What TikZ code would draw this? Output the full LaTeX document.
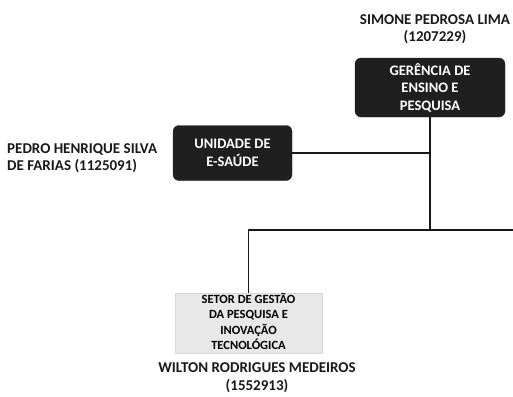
\documentclass[tikz,border=0pt]{standalone}
\usepackage{fontspec}
\setmainfont{Carlito}
\begin{document}
\begin{tikzpicture}[x=1pt,y=-1pt,
  darkbox/.style={draw=black!85,fill=black!88,rounded corners=6pt,text=white,font=\fontsize{14.5}{17.5}\selectfont\bfseries,align=center,inner sep=0pt},
  lightbox/.style={draw=black!15,fill=black!9,text=black,font=\fontsize{12.5}{15.3}\selectfont\bfseries,align=center,inner sep=0pt},
  person/.style={font=\fontsize{15}{17.5}\selectfont\bfseries,text=black!90,inner sep=0pt},
  conn/.style={line width=1.8pt,black!90}]
\useasboundingbox (0,0) rectangle (513,396);
\node[person,align=center] (simone) at (435,29) {SIMONE PEDROSA LIMA\\(1207229)};
\node[darkbox,minimum width=150pt,minimum height=59pt] (ger) at (430,87.5) {GERÊNCIA DE\\ENSINO E\\PESQUISA};
\node[darkbox,minimum width=119pt,minimum height=55pt] (uni) at (232.5,153) {UNIDADE DE\\E-SAÚDE};
\node[person,align=left,anchor=west] (pedro) at (7,158) {PEDRO HENRIQUE SILVA\\DE FARIAS (1125091)};
\node[lightbox,minimum width=147pt,minimum height=60pt] (setor) at (248.5,323) {};
\node[lightbox,draw=none,fill=none] (setortext) at (248.5,321.5) {SETOR DE GESTÃO\\DA PESQUISA E\\INOVAÇÃO\\TECNOLÓGICA};
\node[person,align=center] (wilton) at (257,377.5) {WILTON RODRIGUES MEDEIROS\\(1552913)};
\coordinate (jr) at (513,230);
\coordinate (jm) at (430,230);
\draw[conn] (ger.south) -- (jm);
\draw[conn] (uni.east) -- (uni.east -| ger.south);
\draw[conn] (jr) -- (setor.north |- jr) -- (setor.north);
\end{tikzpicture}
\end{document}
